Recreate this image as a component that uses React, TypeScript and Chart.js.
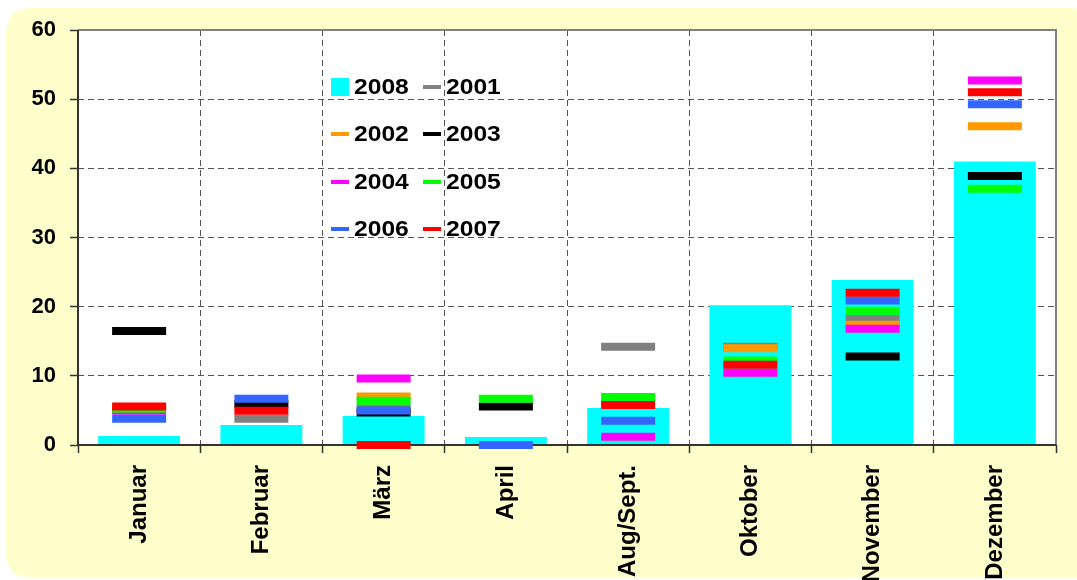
import React, { useEffect, useRef } from 'react';
import { Chart, registerables } from 'chart.js';

Chart.register(...registerables);

const W = 1077;
const H = 580;

const categories = ['Januar', 'Februar', 'März', 'April', 'Aug/Sept.', 'Oktober', 'November', 'Dezember'];
const yTicks = [0, 10, 20, 30, 40, 50, 60];

const v2008 = [1.3, 2.9, 4.2, 1.15, 5.35, 20.2, 23.85, 41.0];
const v2001 = [null, 3.8, 5.3, null, 14.2, 14.2, 18.2, null];
const v2002 = [null, null, 7.0, null, null, 14.0, 17.4, 46.1];
const v2003 = [16.5, 5.9, 4.7, 5.55, null, null, 12.8, 38.9];
const v2004 = [4.95, null, 9.6, null, 1.2, 10.45, 16.8, 52.7];
const v2005 = [5.25, null, 6.4, 6.7, 6.95, 12.2, 19.4, 37.05];
const v2006 = [3.8, 6.7, 5.0, 0, 3.5, null, 20.9, 49.25];
const v2007 = [5.55, 4.95, 0, null, 5.8, 11.6, 22.0, 51.0];

const markerSeries = [
  { label: '2001', data: v2001, color: '#808080' },
  { label: '2002', data: v2002, color: '#FF9900' },
  { label: '2003', data: v2003, color: '#000000' },
  { label: '2004', data: v2004, color: '#FF00FF' },
  { label: '2005', data: v2005, color: '#00FF00' },
  { label: '2006', data: v2006, color: '#3366FF' },
  { label: '2007', data: v2007, color: '#FF0000' },
];

const legendOrder = ['2008', '2001', '2002', '2003', '2004', '2005', '2006', '2007'];
const CYAN = '#00FFFF';
const FONT = "'Liberation Sans', Arial, sans-serif";

function roundRect(ctx: CanvasRenderingContext2D, x: number, y: number, w: number, h: number, r: number) {
  ctx.beginPath();
  ctx.moveTo(x + r, y);
  ctx.lineTo(x + w - r, y);
  ctx.quadraticCurveTo(x + w, y, x + w, y + r);
  ctx.lineTo(x + w, y + h - r);
  ctx.quadraticCurveTo(x + w, y + h, x + w - r, y + h);
  ctx.lineTo(x + r, y + h);
  ctx.quadraticCurveTo(x, y + h, x, y + h - r);
  ctx.lineTo(x, y + r);
  ctx.quadraticCurveTo(x, y, x + r, y);
  ctx.closePath();
}

const decorPlugin = {
  id: 'decor',
  beforeDraw(chart: any) {
    const { ctx, chartArea: a } = chart;
    ctx.save();
    ctx.fillStyle = '#FFFFFF';
    ctx.fillRect(0, 0, W, H);
    ctx.fillStyle = '#FFFFCC';
    roundRect(ctx, 6, 8, W - 6 + 20, H - 10, 26);
    ctx.fill();
    ctx.fillStyle = '#FFFFFF';
    ctx.fillRect(a.left, a.top, a.right - a.left, a.bottom - a.top);
    ctx.restore();
  },
  beforeDatasetsDraw(chart: any) {
    const { ctx, chartArea: a } = chart;
    ctx.save();
    ctx.setLineDash([]);
    ctx.strokeStyle = '#808080';
    ctx.lineWidth = 2;
    ctx.beginPath();
    ctx.moveTo(a.left, a.top);
    ctx.lineTo(a.right, a.top);
    ctx.lineTo(a.right, a.bottom);
    ctx.stroke();
    ctx.restore();
  },
  afterDatasetDraw(chart: any, args: any) {
    if (args.index !== 0) return;
    const { ctx, chartArea: a } = chart;
    ctx.save();
    ctx.setLineDash([]);
    ctx.strokeStyle = '#333333';
    ctx.lineWidth = 2;
    ctx.beginPath();
    ctx.moveTo(a.left, a.top);
    ctx.lineTo(a.left, a.bottom);
    ctx.lineTo(a.right, a.bottom);
    ctx.stroke();
    ctx.restore();
  },
  afterDraw(chart: any) {
    const { ctx, chartArea: a } = chart;
    const colors: Record<string, string> = { '2008': CYAN };
    markerSeries.forEach((s) => (colors[s.label] = s.color));
    ctx.save();
    const colX = [a.left + 253, a.left + 345];
    const rowY = [a.top + 57, a.top + 104, a.top + 152, a.top + 199];
    legendOrder.forEach((lab, i) => {
      const cx = colX[i % 2];
      const cy = rowY[Math.floor(i / 2)];
      ctx.fillStyle = colors[lab];
      if (lab === '2008') {
        ctx.fillRect(cx, cy - 9, 18, 18);
      } else {
        ctx.fillRect(cx, cy - 2, 18, 4);
      }
      ctx.save();
      ctx.translate(cx + 23, cy);
      ctx.scale(1.12, 1);
      ctx.fillStyle = '#000000';
      ctx.font = `bold 22px ${FONT}`;
      ctx.textBaseline = 'middle';
      ctx.textAlign = 'left';
      ctx.fillText(lab, 0, 1);
      ctx.restore();
    });
    ctx.restore();
  },
};

export default function App() {
  const ref = useRef<HTMLCanvasElement>(null);
  useEffect(() => {
    const datasets: any[] = [
      {
        type: 'bar',
        label: '2008',
        data: v2008,
        backgroundColor: CYAN,
        borderWidth: 0,
        barPercentage: 0.67,
        categoryPercentage: 1.0,
        order: 100,
      },
      ...markerSeries.map((s, i) => ({
        type: 'line',
        label: s.label,
        data: s.data,
        showLine: false,
        pointStyle: 'line',
        pointRadius: 27,
        pointHoverRadius: 27,
        pointBorderWidth: 8,
        pointBorderColor: s.color,
        pointBackgroundColor: s.color,
        borderColor: s.color,
        clip: false,
        order: 7 - i,
      })),
    ];
    const chart = new Chart(ref.current!, {
      type: 'bar',
      data: { labels: categories, datasets },
      plugins: [decorPlugin],
      options: {
        responsive: false,
        maintainAspectRatio: false,
        devicePixelRatio: 1,
        animation: false,
        layout: { autoPadding: false, padding: { top: 30, right: 21, left: 0, bottom: 0 } },
        plugins: { legend: { display: false }, tooltip: { enabled: false } },
        scales: {
          x: {
            offset: true,
            grid: {
              offset: true,
              color: '#555555',
              lineWidth: 1,
              tickLength: 8,
              tickColor: '#333333',
              tickWidth: 1.5,
              tickBorderDash: [],
            },
            border: { display: false, dash: [6, 4] },
            ticks: {
              color: '#000000',
              font: { family: FONT, size: 24, weight: 'bold' },
              maxRotation: 90,
              minRotation: 90,
              padding: 12,
              autoSkip: false,
            },
            afterFit: (s: any) => {
              s.height = 135;
              s.paddingLeft = 0;
              s.paddingRight = 0;
              s.paddingTop = 0;
              s.paddingBottom = 0;
            },
          },
          y: {
            min: 0,
            max: 60,
            afterBuildTicks: (s: any) => {
              s.ticks = yTicks.map((v) => ({ value: v }));
            },
            grid: {
              color: '#555555',
              lineWidth: 1,
              tickLength: 8,
              tickColor: '#333333',
              tickWidth: 1.5,
              tickBorderDash: [],
            },
            border: { display: false, dash: [6, 4] },
            ticks: {
              color: '#000000',
              font: { family: FONT, size: 22, weight: 'bold' },
              padding: 14,
            },
            afterFit: (s: any) => {
              s.width = 78;
              s.paddingLeft = 0;
              s.paddingRight = 0;
              s.paddingTop = 0;
              s.paddingBottom = 0;
            },
          },
        },
      } as any,
    });
    return () => chart.destroy();
  }, []);
  return (
    <div style={{ position: 'absolute', left: 0, top: 0, width: W, height: H, background: '#fff' }}>
      <canvas ref={ref} width={W} height={H} style={{ display: 'block', width: W, height: H }} />
    </div>
  );
}
